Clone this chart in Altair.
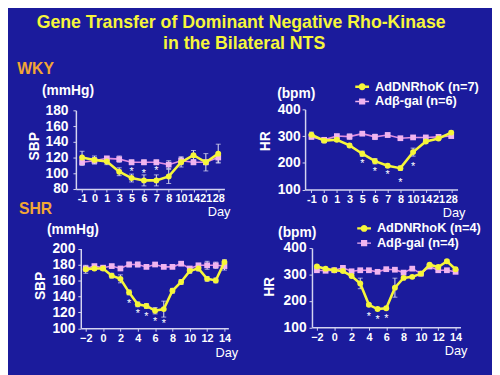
import altair as alt
import pandas as pd

# ---------------- data ----------------
wky_days = ["-1", "0", "1", "3", "5", "6", "7", "8", "10", "14", "21", "28"]

wky_sbp_dn = [120, 117, 115, 102, 94, 91, 91, 96, 114, 123, 114, 125]
wky_sbp_dn_err = [8, 5, 4, 5, 5, 7, 7, 9, 6, 6, 11, 12]
wky_sbp_gal = [114, 116, 119, 118, 114, 114, 114, 111, 116, 114, 114, 120]
wky_sbp_gal_err = [4, 4, 2, 4, 3, 3, 3, 5, 5, 3, 3, 6]
wky_sbp_star_days = ["5", "6", "7"]
wky_sbp_star_vals = [105, 103, 106]

wky_hr_dn = [305, 283, 286, 265, 234, 206, 189, 180, 240, 280, 291, 313]
wky_hr_dn_err = [10, 8, 6, 6, 10, 10, 6, 8, 15, 6, 5, 6]
wky_hr_gal = [297, 286, 300, 298, 309, 297, 304, 292, 295, 295, 297, 300]
wky_hr_gal_err = [8, 8, 5, 10, 5, 10, 8, 5, 5, 5, 8, 5]
wky_hr_star_days = ["5", "6", "7", "8", "10"]
wky_hr_star_vals = [206, 177, 167, 137, 194]

shr_days = [-2, -1, 0, 1, 2, 3, 4, 5, 6, 7, 8, 9, 10, 11, 12, 13, 14]

shr_sbp_dn = [174, 175, 175, 166, 162, 145, 130, 128, 122, 124, 147, 158, 172, 175, 162, 160, 183]
shr_sbp_dn_err = [5, 2, 2, 3, 5, 3, 3, 3, 4, 10, 3, 3, 3, 3, 3, 3, 3]
shr_sbp_gal = [175, 178, 176, 178, 175, 180, 180, 177, 180, 177, 177, 181, 175, 179, 179, 179, 178]
shr_sbp_gal_err = [3, 2, 2, 2, 2, 3, 3, 2, 2, 2, 2, 2, 2, 2, 5, 4, 5]
shr_sbp_star_days = [3, 4, 5, 6, 7]
shr_sbp_star_vals = [134, 121, 118, 112, 109]

shr_hr_dn = [330, 322, 316, 313, 294, 266, 185, 169, 172, 250, 287, 291, 303, 337, 328, 350, 320]
shr_hr_dn_err = [5, 5, 5, 5, 5, 20, 5, 5, 5, 36, 5, 5, 5, 5, 5, 5, 5]
shr_hr_gal = [316, 314, 316, 325, 312, 316, 316, 310, 320, 318, 307, 322, 303, 330, 316, 316, 310]
shr_hr_gal_err = [3, 3, 3, 3, 3, 3, 3, 3, 3, 3, 3, 3, 3, 3, 3, 3, 3]
shr_hr_star_days = [4, 5, 6]
shr_hr_star_vals = [150, 137, 141]

legend_wky = ["AdDNRhoK (n=7)", "Adβ-gal (n=6)"]
legend_shr = ["AdDNRhoK (n=4)", "Adβ-gal (n=4)"]

# ---------------- style ----------------
BG = "#1b1b9c"
YEL = "#f6f63a"
PINK = "#e08ee0"
PINK_PT = "#f0b4f0"
ERR = "#e4e4f4"
AX = "#d4d4f0"
ORANGE = "#f2a634"
FONT = "Liberation Sans"

W, H = 492, 367
OX, OY = 8, 8


def px(x):
    return x - OX


def py(y):
    return y - OY


def xaxis(axis_y, title_x, title_y, values=None):
    kw = dict(
        orient="bottom", offset=py(axis_y) - H, title="Day",
        titleX=px(title_x), titleY=title_y - axis_y, titleAlign="center",
        titleBaseline="middle", titleFont=FONT, titleFontSize=13,
        titleFontWeight="normal", titleColor="white",
        labelFont=FONT, labelFontSize=11, labelFontWeight="bold",
        labelColor="white", labelAngle=0, labelPadding=1,
        labelOverlap=False, labelFlush=False,
        domainColor=AX, domainWidth=1.5, tickColor=AX, tickSize=3,
        tickWidth=1, grid=False,
    )
    if values is not None:
        kw["values"] = values
    return alt.Axis(**kw)


def yaxis(axis_x, values, title, title_x, title_y, lp):
    return alt.Axis(
        orient="left", offset=-px(axis_x), values=values, title=title,
        titleX=title_x - axis_x, titleY=py(title_y), titleAngle=270,
        titleAlign="center", titleBaseline="middle", titleFont=FONT,
        titleFontSize=14, titleFontWeight="bold", titleColor="white",
        labelFont=FONT, labelFontSize=14, labelFontWeight="bold",
        labelColor="white", labelPadding=lp,
        domainColor=AX, domainWidth=1.5, tickColor=AX, tickSize=3,
        grid=False,
    )


def panel(days, ordinal, dn, dn_err, gal, gal_err, star_days, star_vals,
          xscale, yscale, xax, yax):
    n = len(days)
    df = pd.DataFrame({
        "day": list(days) * 2,
        "idx": list(range(n)) * 2,
        "val": list(dn) + list(gal),
        "lo": [v - e for v, e in zip(dn, dn_err)] + [v - e for v, e in zip(gal, gal_err)],
        "hi": [v + e for v, e in zip(dn, dn_err)] + [v + e for v, e in zip(gal, gal_err)],
        "series": ["dn"] * n + ["gal"] * n,
    })
    stars = pd.DataFrame({"day": star_days, "val": star_vals})
    X = alt.X("day:O" if ordinal else "day:Q", scale=xscale, axis=xax)
    Y = alt.Y("val:Q", scale=yscale, axis=yax)
    base = alt.Chart(df)
    err = base.mark_errorbar(ticks=True, size=5, thickness=1, color=ERR).encode(
        x=X, y=alt.Y("lo:Q", scale=yscale, axis=yax), y2="hi:Q")
    gal_line = base.transform_filter(alt.datum.series == "gal").mark_line(
        color=PINK, strokeWidth=1.6).encode(x=X, y=Y, order="idx:Q")
    gal_pts = base.transform_filter(alt.datum.series == "gal").mark_point(
        filled=True, shape="square", size=34, color=PINK_PT, opacity=1).encode(x=X, y=Y)
    dn_line = base.transform_filter(alt.datum.series == "dn").mark_line(
        color=YEL, strokeWidth=2.6).encode(x=X, y=Y, order="idx:Q")
    dn_pts = base.transform_filter(alt.datum.series == "dn").mark_point(
        filled=True, shape="circle", size=36, color=YEL, opacity=1).encode(x=X, y=Y)
    st = alt.Chart(stars).mark_text(text="*", color="white", fontSize=11,
                                     font=FONT, dy=3).encode(x=X, y=Y)
    return alt.layer(err, gal_line, gal_pts, dn_line, dn_pts, st)


PATH_CIRCLE = "M0.5,0A0.5,0.5,0,1,1,-0.5,0A0.5,0.5,0,1,1,0.5,0Z M-1,-0.17H1V0.17H-1Z"
PATH_SQUARE = "M-0.45,-0.45H0.45V0.45H-0.45Z M-1,-0.1H1V0.1H-1Z"


def legend_layer(names, lx, ly):
    leg = alt.Legend(orient="none", legendX=px(lx), legendY=py(ly), title=None,
                     labelColor="white", labelFont=FONT, labelFontSize=13,
                     labelFontWeight="bold", symbolSize=196, rowPadding=1,
                     padding=0, labelOffset=6, symbolStrokeWidth=0,
                     symbolOpacity=1)
    df = pd.DataFrame({"s": names})
    return alt.Chart(df).mark_point(filled=True, opacity=1).encode(
        color=alt.Color("s:N", scale=alt.Scale(domain=names, range=[YEL, PINK_PT]), legend=leg),
        shape=alt.Shape("s:N", scale=alt.Scale(domain=names, range=[PATH_CIRCLE, PATH_SQUARE]), legend=leg),
    ).transform_filter("false")


def note(text, x, y, size, color="white", weight="bold"):
    return alt.Chart(pd.DataFrame({"t": [text]})).mark_text(
        fontSize=size, font=FONT, fontWeight=weight, color=color,
        align="center", baseline="middle").encode(
        x=alt.value(px(x)), y=alt.value(py(y)), text="t:N")


# ---------------- panels ----------------
tl = panel(
    wky_days, True, wky_sbp_dn, wky_sbp_dn_err, wky_sbp_gal, wky_sbp_gal_err,
    wky_sbp_star_days, wky_sbp_star_vals,
    alt.Scale(type="point", domain=wky_days, range=[px(77), px(228)], padding=0.5),
    alt.Scale(domain=[80, 180], range=[py(189), py(109)], nice=False, zero=False),
    xaxis(189, 222, 212),
    yaxis(77, [80, 100, 120, 140, 160, 180], "SBP", 35, 145, 5),
)

tr = panel(
    wky_days, True, wky_hr_dn, wky_hr_dn_err, wky_hr_gal, wky_hr_gal_err,
    wky_hr_star_days, wky_hr_star_vals,
    alt.Scale(type="point", domain=wky_days, range=[px(310), px(465)], padding=0.5),
    alt.Scale(domain=[100, 400], range=[py(189.5), py(108)], nice=False, zero=False),
    xaxis(189.5, 461, 212.5),
    yaxis(310, [100, 200, 300, 400], "HR", 270, 140, 2),
)

bl = panel(
    shr_days, False, shr_sbp_dn, shr_sbp_dn_err, shr_sbp_gal, shr_sbp_gal_err,
    shr_sbp_star_days, shr_sbp_star_vals,
    alt.Scale(domain=[-2.57, 14.45], range=[px(82), px(232)], nice=False, zero=False),
    alt.Scale(domain=[100, 200], range=[py(330.5), py(249.5)], nice=False, zero=False),
    xaxis(330.5, 230, 355, values=[-2, 0, 2, 4, 6, 8, 10, 12, 14]),
    yaxis(82, [100, 120, 140, 160, 180, 200], "SBP", 41, 287, 3),
)

br = panel(
    shr_days, False, shr_hr_dn, shr_hr_dn_err, shr_hr_gal, shr_hr_gal_err,
    shr_hr_star_days, shr_hr_star_vals,
    alt.Scale(domain=[-2.57, 14.57], range=[px(317), px(468)], nice=False, zero=False),
    alt.Scale(domain=[100, 400], range=[py(329.5), py(249)], nice=False, zero=False),
    xaxis(329.5, 463, 353, values=[-2, 0, 2, 4, 6, 8, 10, 12, 14]),
    yaxis(317, [100, 200, 300, 400], "HR", 274, 288, 3),
)

notes = [
    note("Gene Transfer of Dominant Negative Rho-Kinase", 245, 20, 18, YEL),
    note("in the Bilateral NTS", 248, 42, 18, YEL),
    note("WKY", 36, 67, 16, ORANGE),
    note("SHR", 36, 209, 16, ORANGE),
    note("(mmHg)", 69, 89, 14),
    note("(mmHg)", 74, 231, 14),
    note("(bpm)", 301, 92, 14),
    note("(bpm)", 302, 234, 14),
]

chart = alt.layer(
    tl, tr, bl, br,
    legend_layer(legend_wky, 361, 78),
    legend_layer(legend_shr, 363, 222),
    *notes,
).resolve_scale(
    x="independent", y="independent", color="independent", shape="independent"
).resolve_axis(
    x="independent", y="independent"
).resolve_legend(
    color="independent", shape="independent"
).properties(
    width=W, height=H, autosize=alt.AutoSizeParams(type="none"), padding=0,
    background=BG,
).configure_view(stroke=None)

chart.save("out.html", embed_options={"renderer": "svg", "actions": False})
